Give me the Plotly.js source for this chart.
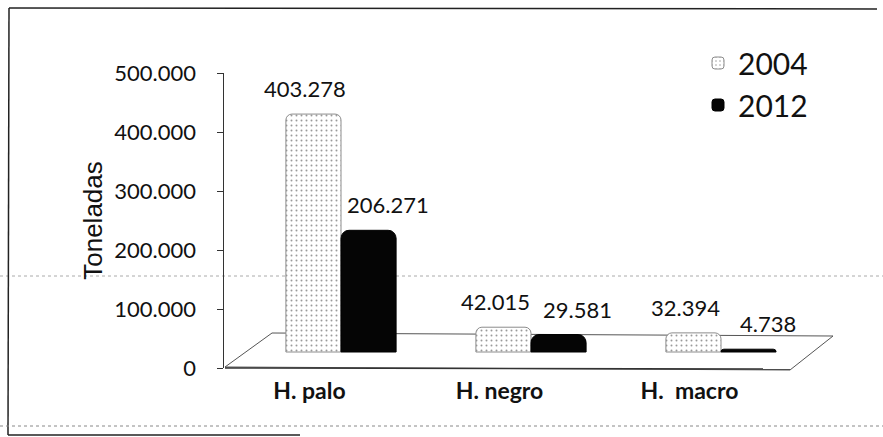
<!DOCTYPE html>
<html>
<head>
<meta charset="utf-8">
<script src="https://cdn.plot.ly/plotly-3.0.1.min.js"></script>
<style>html,body{margin:0;padding:0;background:#fff;}#chart{width:883px;height:437px;}</style>
</head>
<body>
<div id="chart"></div>
<script>
// ---- data ----
const categories = ['H. palo', 'H. negro', 'H.\u00a0 macro'];
const seriesNames = ['2004', '2012'];
const values2004 = [403278, 42015, 32394];
const values2012 = [206271, 29581, 4738];
const yTickValues = [0, 100000, 200000, 300000, 400000, 500000];
const yTitle = 'Toneladas';

// ---- layout helpers (pixel geometry of the plot area) ----
const W = 883, H = 437;
const L = 224, R = 794, T = 73, B = 368;
const px = x => (x - L) / (R - L);
const py = y => (B - y) / (B - T);

const FONT = 'Lato, "Noto Sans", sans-serif';
const seriesValues = [values2004, values2012];
const barStyles = [
  {color: '#ffffff', line: {color: '#8c8c8c', width: 1},
   pattern: {shape: '.', fgcolor: '#9a9a9a', bgcolor: '#ffffff', size: 5, solidity: 0.12},
   cornerradius: 6},
  {color: '#050505', line: {color: '#000', width: 1}, cornerradius: 8}
];

const traces = seriesNames.map((name, i) => ({
  type: 'bar', name: name, x: categories, y: seriesValues[i],
  xaxis: 'x', yaxis: 'y',
  marker: {color: barStyles[i].color, line: barStyles[i].line, pattern: barStyles[i].pattern,
           cornerradius: barStyles[i].cornerradius},
  hoverinfo: 'skip'
}));
// empty carrier trace so the display axes (x2 / y2) get their own subplot
traces.push({type: 'scatter', mode: 'markers', x: [], y: [], xaxis: 'x2', yaxis: 'y2',
             showlegend: false, hoverinfo: 'skip'});

const bargap = 0.42;
const half = (1 - bargap) / 4;
const labelShift = [-8, 19];
const annotations = [];
seriesValues.forEach((vals, i) => {
  vals.forEach((v, j) => {
    annotations.push({
      xref: 'x', yref: 'y', x: j + (i === 0 ? -half : half), y: v,
      text: v.toLocaleString('de-DE'), showarrow: false,
      yanchor: 'bottom', yshift: 10, xshift: labelShift[i],
      font: {family: FONT, size: 22, color: '#111'}
    });
  });
});

const shapes = [
  // 3D floor
  {type: 'path', xref: 'paper', yref: 'paper',
   path: `M${px(225)},${py(367)} L${px(272)},${py(333)} L${px(833)},${py(336)} L${px(790)},${py(370)} Z`,
   line: {color: '#555', width: 1}, fillcolor: 'rgba(0,0,0,0)', layer: 'below'},
  {type: 'line', xref: 'paper', yref: 'paper', x0: px(225), y0: py(368), x1: px(790), y1: py(369),
   line: {color: '#333', width: 1.5}},
  // frame / scan lines
  {type: 'line', xref: 'paper', yref: 'paper', x0: px(9), y0: py(8), x1: px(877), y1: py(9),
   line: {color: '#222', width: 1.5}},
  {type: 'line', xref: 'paper', yref: 'paper', x0: px(9), y0: py(8), x1: px(8), y1: py(435),
   line: {color: '#222', width: 1.5}},
  {type: 'line', xref: 'paper', yref: 'paper', x0: px(8), y0: py(435), x1: px(300), y1: py(435),
   line: {color: '#222', width: 1.5}},
  {type: 'line', xref: 'paper', yref: 'paper', x0: px(0), y0: py(426), x1: px(883), y1: py(426),
   line: {color: '#888', width: 1, dash: 'dot'}},
  {type: 'line', xref: 'paper', yref: 'paper', x0: px(0), y0: py(276), x1: px(883), y1: py(276),
   line: {color: '#aaa', width: 1, dash: 'dot'}, layer: 'below'}
];

const layout = {
  width: W, height: H,
  margin: {l: L, r: W - R, t: T, b: H - B, pad: 0},
  paper_bgcolor: '#ffffff', plot_bgcolor: 'rgba(0,0,0,0)',
  separators: ',.',
  font: {family: FONT, color: '#111'},
  barmode: 'group', bargap: bargap, bargroupgap: 0,
  showlegend: true,
  legend: {x: px(698), xanchor: 'left', y: py(37), yanchor: 'top',
           font: {family: FONT, size: 30, color: '#111'}, bgcolor: 'rgba(0,0,0,0)',
           tracegroupgap: 0},
  // bar axes (set back in depth)
  xaxis: {type: 'category', categoryarray: categories, range: [-(341 - L) / 190, -(341 - L) / 190 + 3],
          visible: false, fixedrange: true},
  yaxis: {range: [-16 / ((B - T) / 500000), -16 / ((B - T) / 500000) + 500000],
          visible: false, fixedrange: true},
  // display axes
  xaxis2: {overlaying: 'x', anchor: 'y2', range: [-0.45, 2.55], tickvals: [0, 1, 2], ticktext: categories,
           showline: false, showgrid: false, zeroline: false, ticks: '', ticklabelstandoff: 7,
           tickfont: {family: FONT, size: 23, color: '#111', weight: 'bold'}},
  yaxis2: {overlaying: 'y', anchor: 'x2', side: 'left', range: [0, 500000], tickvals: yTickValues,
           tickformat: ',d', showline: true, linecolor: '#333', linewidth: 1.5,
           ticks: 'outside', ticklen: 6, tickcolor: '#333', showgrid: false, zeroline: false,
           ticklabelstandoff: 16, tickfont: {family: FONT, size: 22, color: '#111'},
           title: {text: yTitle, standoff: 4,
                   font: {family: '"Liberation Sans", Arial, sans-serif', size: 26, color: '#111'}}},
  annotations: annotations,
  shapes: shapes
};

Plotly.newPlot('chart', traces, layout, {staticPlot: true, displayModeBar: false});
</script>
</body>
</html>
